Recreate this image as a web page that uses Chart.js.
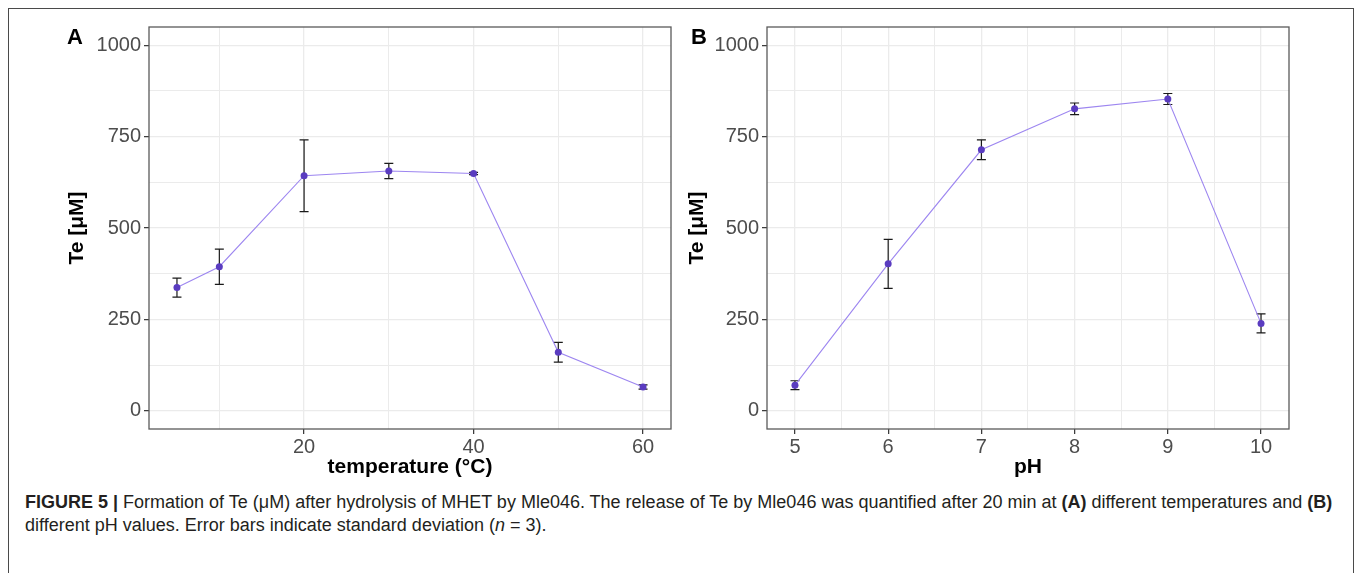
<!DOCTYPE html>
<html>
<head>
<meta charset="utf-8">
<script src="https://cdn.jsdelivr.net/npm/chart.js@4.4.1/dist/chart.umd.min.js"></script>
<style>
  body { margin: 0; background: #fff; width: 1357px; height: 573px; overflow: hidden; position: relative; font-family: "Liberation Sans", Arial, sans-serif; }
  #frame { position: absolute; left: 8px; top: 8px; width: 1346px; height: 600px; border: 1.5px solid #4a4a4a; border-bottom: none; box-sizing: border-box; }
  .wrap { position: absolute; top: 0; }
  #wrapA { left: 0; width: 680px; height: 490px; }
  #wrapB { left: 680px; width: 677px; height: 490px; }
  .tag { position: absolute; top: 24px; font: bold 22px "Liberation Sans", Arial, sans-serif; color: #000; }
  #caption { position: absolute; left: 25px; top: 491px; width: 1325px; font: 18px "Liberation Sans Narrow", "Liberation Sans", sans-serif; line-height: 23px; color: #231f20; white-space: nowrap; }
  #caption b { font-weight: bold; }
</style>
</head>
<body>
<div id="frame"></div>
<div class="wrap" id="wrapA"><canvas id="chartA" width="680" height="490"></canvas></div>
<div class="wrap" id="wrapB"><canvas id="chartB" width="677" height="490"></canvas></div>
<div class="tag" style="left:67px">A</div>
<div class="tag" style="left:691px">B</div>
<div id="caption"><b>FIGURE 5 |</b> Formation of Te (μM) after hydrolysis of MHET by Mle046. The release of Te by Mle046 was quantified after 20 min at <b>(A)</b> different temperatures and <b>(B)</b><br>different pH values. Error bars indicate standard deviation (<i>n</i> = 3).</div>
<script>
// panel A: temperature series
const tempX = [5, 10, 20, 30, 40, 50, 60];
const tempTe = [337, 394, 643, 656, 649, 160, 65];
const tempSd = [26, 48, 98, 21, 3, 27, 6];

// panel B: pH series
const phX = [5, 6, 7, 8, 9, 10];
const phTe = [70, 402, 714, 826, 853, 239];
const phSd = [12, 67, 27, 16, 15, 26];

// axes: grid positions and labelled ticks
const teGrid = [0, 125, 250, 375, 500, 625, 750, 875, 1000];
const teLabels = [0, 250, 500, 750, 1000];
const tempGrid = [10, 20, 30, 40, 50, 60];
const tempLabels = [20, 40, 60];
const phGrid = [5, 5.5, 6, 6.5, 7, 7.5, 8, 8.5, 9, 9.5, 10];
const phLabels = [5, 6, 7, 8, 9, 10];

const lineColor = '#9d86f0';
const pointColor = '#5a3cc0';
const gridColor = '#ebebeb';
const tickText = '#4d4d4d';

const errorBars = {
    id: 'errorBars',
    beforeDatasetsDraw(chart, args, opts) {
        const ctx = chart.ctx;
        const xs = chart.scales.x;
        const ys = chart.scales.y;
        ctx.save();
        ctx.strokeStyle = '#1a1a1a';
        ctx.lineWidth = 1.2;
        opts.x.forEach((xv, i) => {
            const px = xs.getPixelForValue(xv);
            const top = ys.getPixelForValue(opts.y[i] + opts.sd[i]);
            const bot = ys.getPixelForValue(opts.y[i] - opts.sd[i]);
            ctx.beginPath();
            ctx.moveTo(px, top);
            ctx.lineTo(px, bot);
            ctx.moveTo(px - 4.5, top);
            ctx.lineTo(px + 4.5, top);
            ctx.moveTo(px - 4.5, bot);
            ctx.lineTo(px + 4.5, bot);
            ctx.stroke();
        });
        ctx.restore();
    }
};

const panelBox = {
    id: 'panelBox',
    afterDraw(chart) {
        const a = chart.chartArea;
        const ctx = chart.ctx;
        ctx.save();
        ctx.strokeStyle = '#5a5a5a';
        ctx.lineWidth = 1.3;
        ctx.strokeRect(a.left, a.top, a.right - a.left, a.bottom - a.top);
        ctx.restore();
    }
};

function makeChart(id, xs, ys, sd, opt) {
    const font = { family: '"Liberation Sans", Arial, sans-serif' };
    return new Chart(document.getElementById(id), {
        type: 'line',
        data: {
            datasets: [{
                data: xs.map((x, i) => ({ x, y: ys[i] })),
                borderColor: lineColor,
                borderWidth: 1.1,
                pointRadius: 3.5,
                pointBackgroundColor: pointColor,
                pointBorderColor: pointColor,
                pointBorderWidth: 0,
                tension: 0
            }]
        },
        options: {
            responsive: false,
            animation: false,
            devicePixelRatio: 1,
            layout: { padding: { top: 27, right: opt.padRight, left: 0, bottom: 0 } },
            plugins: {
                legend: { display: false },
                tooltip: { enabled: false },
                errorBars: { x: xs, y: ys, sd: sd }
            },
            scales: {
                x: {
                    type: 'linear',
                    min: opt.xMin,
                    max: opt.xMax,
                    afterBuildTicks: s => { s.ticks = opt.xGrid.map(v => ({ value: v })); },
                    afterFit: s => { s.height = 61; },
                    border: { display: false },
                    grid: {
                        color: gridColor,
                        lineWidth: c => opt.xLabels.includes(c.tick.value) ? 1.3 : 1,
                        tickLength: 5,
                        tickWidth: 1.2,
                        tickColor: c => opt.xLabels.includes(c.tick.value) ? '#333' : 'rgba(0,0,0,0)'
                    },
                    ticks: {
                        autoSkip: false,
                        maxRotation: 0,
                        padding: 1,
                        color: tickText,
                        font: { ...font, size: 20 },
                        callback: v => opt.xLabels.includes(v) ? String(v) : ''
                    },
                    title: {
                        display: true,
                        text: opt.xTitle,
                        color: '#000',
                        font: { ...font, size: 21, weight: 'bold' },
                        padding: { top: 0, bottom: 10 }
                    }
                },
                y: {
                    type: 'linear',
                    min: -50,
                    max: 1050,
                    afterBuildTicks: s => { s.ticks = teGrid.map(v => ({ value: v })); },
                    afterFit: s => { s.width = opt.yWidth; },
                    border: { display: false },
                    grid: {
                        color: gridColor,
                        lineWidth: c => teLabels.includes(c.tick.value) ? 1.3 : 1,
                        tickLength: 5,
                        tickWidth: 1.2,
                        tickColor: c => teLabels.includes(c.tick.value) ? '#333' : 'rgba(0,0,0,0)'
                    },
                    ticks: {
                        autoSkip: false,
                        padding: 3,
                        color: tickText,
                        font: { ...font, size: 20 },
                        callback: v => teLabels.includes(v) ? String(v) : ''
                    },
                    title: {
                        display: true,
                        text: 'Te [μM]',
                        color: '#000',
                        font: { ...font, size: 21, weight: 'bold' },
                        padding: { top: opt.yTitlePad, bottom: 0 }
                    }
                }
            }
        },
        plugins: [errorBars, panelBox]
    });
}

makeChart('chartA', tempX, tempTe, tempSd, {
    xMin: 1.7, xMax: 63.3, xGrid: tempGrid, xLabels: tempLabels,
    xTitle: 'temperature (°C)', padRight: 9, yWidth: 149, yTitlePad: 65
});
makeChart('chartB', phX, phTe, phSd, {
    xMin: 4.7, xMax: 10.3, xGrid: phGrid, xLabels: phLabels,
    xTitle: 'pH', padRight: 68, yWidth: 87, yTitlePad: 5
});
</script>
</body>
</html>
